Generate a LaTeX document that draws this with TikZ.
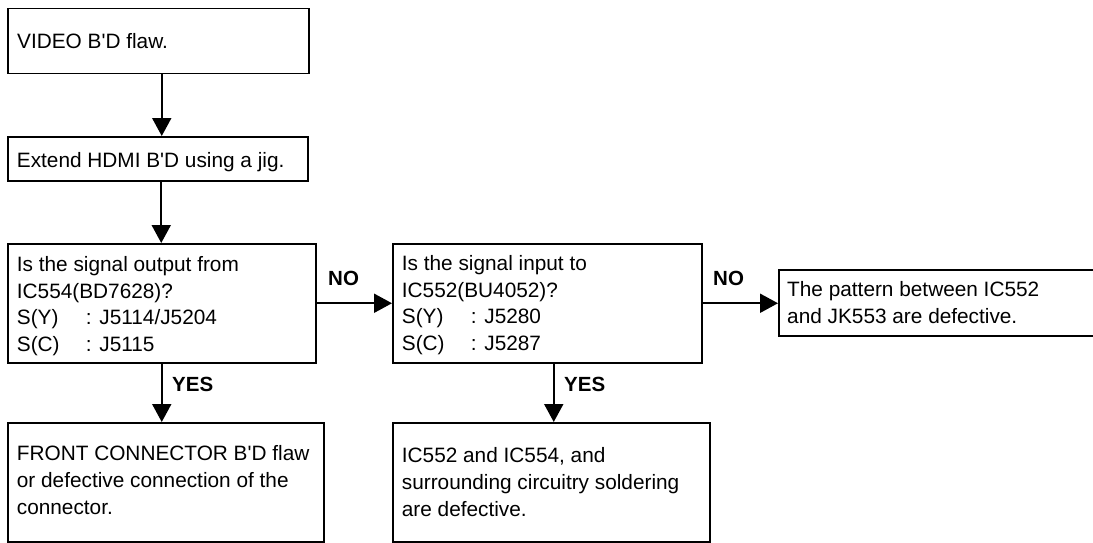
\documentclass[tikz,border=0pt]{standalone}
\usepackage{fontspec}
\setmainfont{Liberation Sans}
\usetikzlibrary{arrows.meta,calc}
\newcommand{\q}{\textquotesingle}
\begin{document}
\begin{tikzpicture}[x=1pt,y=-1pt,
  box/.style={draw, line width=1.5pt, inner sep=0pt, anchor=north west},
  txt/.style={anchor=west, align=left, inner sep=0pt, font=\fontsize{20.8}{26.7}\selectfont},
  lbl/.style={font=\fontsize{20.5}{24}\selectfont\bfseries, inner sep=0pt, anchor=base west},
  arr/.style={line width=2pt, -{Triangle[length=18pt,width=19pt]}}]
\useasboundingbox (0,0) rectangle (1093,543);
\clip (0,0) rectangle (1093,543);
% boxes
\node[box, minimum width=301pt, minimum height=65pt] (b1) at (7,8) {};
\node[box, minimum width=300pt, minimum height=44pt] (b2) at (7,136) {};
\node[box, minimum width=308pt, minimum height=119pt] (b3) at (7,243) {};
\node[box, minimum width=309pt, minimum height=119pt] (b4) at (392,243) {};
\node[box, minimum width=316pt, minimum height=119pt] (b5) at (7,422) {};
\node[box, minimum width=317pt, minimum height=119pt] (b6) at (392,422) {};
\node[box, minimum width=340pt, minimum height=66pt] (b7) at (778,269) {};
% texts
\node[txt] (t1) at ($(b1.west)+(10,0)$) {VIDEO B\q D flaw.};
\node[txt] (t2) at ($(b2.west)+(9.7,3)$) {Extend HDMI B\q D using a jig.};
\node[txt] (t3) at ($(b3.west)+(9.7,3)$) {Is the signal output from\\IC554(BD7628)?\\\makebox[69pt][l]{S(Y)}: J5114/J5204\\\makebox[69pt][l]{S(C)}: J5115};
\node[txt] (t4) at ($(b4.west)+(9.7,2)$) {Is the signal input to\\IC552(BU4052)?\\\makebox[69pt][l]{S(Y)}: J5280\\\makebox[69pt][l]{S(C)}: J5287};
\node[txt] (t5) at ($(b5.west)+(9.7,-2)$) {FRONT CONNECTOR B\q D flaw\\or defective connection of the\\connector.};
\node[txt] (t6) at ($(b6.west)+(9.7,0)$) {IC552 and IC554, and\\surrounding circuitry soldering\\are defective.};
\node[txt] (t7) at ($(b7.west)+(9,0)$) {The pattern between IC552\\and JK553 are defective.};
% connectors
\draw[arr] ([xshift=3.5pt]b1.south) -- ([xshift=3.5pt]b1.south |- b2.north);
\draw[arr] ([xshift=3.5pt]b2.south) -- ([xshift=3.5pt]b2.south |- b3.north);
\draw[arr] (b3.east) -- (b3.east -| b4.west);
\draw[arr] (b3.south) -- (b3.south |- b5.north);
\draw[arr] ([xshift=6.5pt]b4.south) -- ([xshift=6.5pt]b4.south |- b6.north);
\draw[arr] (b4.east) -- (b4.east -| b7.west);
% labels
\node[lbl] (no1) at (328,285) {NO};
\node[lbl] (no2) at (713,285) {NO};
\node[lbl] (yes1) at (172,391) {YES};
\node[lbl] (yes2) at (564,391) {YES};
\end{tikzpicture}
\end{document}
